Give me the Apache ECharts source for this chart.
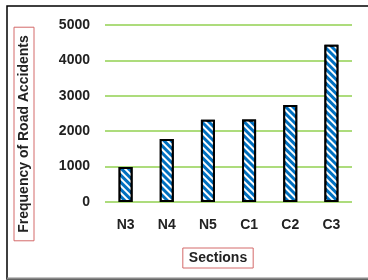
<!DOCTYPE html>
<html>
<head>
<meta charset="utf-8">
<script src="https://cdn.jsdelivr.net/npm/echarts@6/dist/echarts.min.js"></script>
<style>
  html, body { margin: 0; padding: 0; background: #fff; }
  #chart { width: 368px; height: 280px; }
</style>
</head>
<body>
<div id="chart"></div>
<script>
const sections = ["N3", "N4", "N5", "C1", "C2", "C3"]
const accidents = [990, 1780, 2320, 2330, 2740, 4440]
const yTicks = [0, 1000, 2000, 3000, 4000, 5000]

const chart = echarts.init(document.getElementById("chart"))
const font = "'Liberation Sans', Arial, sans-serif"

// boxed axis titles, placed like the original (not centred on the grid)
const titleStyle = {
  fill: "#222",
  font: "bold 14px " + font,
  align: "center",
  verticalAlign: "middle",
  borderColor: "#d46a6a",
  borderWidth: 1,
  padding: [3, 6, 3, 6]
}

chart.setOption({
  animation: false,
  textStyle: { fontFamily: font },
  graphic: [
    {
      type: "rect",
      shape: { x: 7, y: 6, width: 380, height: 273 },
      style: { fill: "none", stroke: "#000", lineWidth: 1.5 },
      silent: true
    },
    {
      type: "line",
      shape: { x1: 7, y1: 278.5, x2: 368, y2: 278.5 },
      style: { stroke: "#888", lineWidth: 2 },
      silent: true
    },
    {
      type: "text",
      x: 24,
      y: 134,
      rotation: Math.PI / 2,
      style: Object.assign({ text: "Frequency of Road Accidents" }, titleStyle, { padding: [3, 8, 3, 8] }),
      silent: true
    },
    {
      type: "text",
      x: 218,
      y: 258,
      style: Object.assign({ text: "Sections" }, titleStyle),
      silent: true
    }
  ],
  grid: { left: 105, right: 16, top: 25, bottom: 78 },
  xAxis: {
    type: "category",
    data: sections,
    axisLine: { show: false },
    axisTick: { show: false },
    axisLabel: { color: "#222", fontWeight: "bold", fontSize: 14, margin: 16, fontFamily: font }
  },
  yAxis: {
    type: "value",
    min: yTicks[0],
    max: yTicks[yTicks.length - 1],
    interval: 1000,
    axisLine: { show: false },
    axisTick: { show: false },
    axisLabel: {
      color: "#222", fontWeight: "bold", fontSize: 14, margin: 15, fontFamily: font,
      formatter: v => String(v)
    },
    splitLine: { lineStyle: { color: "#92d050", width: 1.5 } }
  },
  series: [
    {
      type: "bar",
      data: accidents,
      barWidth: 14,
      itemStyle: {
        color: "#0070c0",
        borderColor: "#000",
        borderWidth: 2,
        decal: {
          symbol: "rect",
          color: "#fff",
          dashArrayX: [1, 0],
          dashArrayY: [2, 3],
          rotation: Math.PI / 4
        }
      }
    }
  ]
})
</script>
</body>
</html>
